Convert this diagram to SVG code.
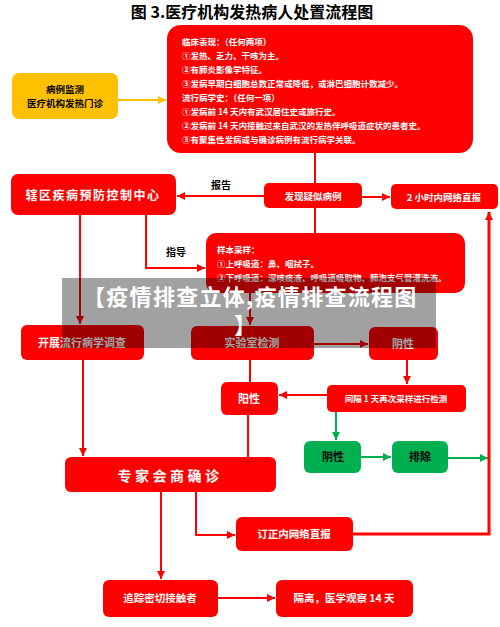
<svg xmlns="http://www.w3.org/2000/svg" width="500" height="627" viewBox="0 0 500 627">
<defs>
<marker id="ar" viewBox="0 0 10 10" refX="10" refY="5" markerWidth="8" markerHeight="8" markerUnits="userSpaceOnUse" orient="auto"><path d="M0,0 L10,5 L0,10 z" fill="#FF0000"/></marker>
<marker id="ag" viewBox="0 0 10 10" refX="10" refY="5" markerWidth="8" markerHeight="8" markerUnits="userSpaceOnUse" orient="auto"><path d="M0,0 L10,5 L0,10 z" fill="#00B050"/></marker>
<marker id="ay" viewBox="0 0 10 10" refX="10" refY="5" markerWidth="8" markerHeight="8" markerUnits="userSpaceOnUse" orient="auto"><path d="M0,0 L10,5 L0,10 z" fill="#FFC000"/></marker>
</defs>
<style>
text{font-family:"Noto Sans CJK SC","Liberation Sans",sans-serif;}
.r{fill:#FF0000;}
.g{fill:#00B050;}
.w{fill:#fff;font-weight:bold;}
.b{fill:#000;font-weight:bold;}
.c{text-anchor:middle;}
.lr{stroke:#FF0000;stroke-width:2;fill:none;}
.lg{stroke:#00B050;stroke-width:2;fill:none;}
.ly{stroke:#FFC000;stroke-width:2;fill:none;}
</style>
<rect width="500" height="627" fill="#fff"/>
<text x="252" y="18" class="b c" font-size="16">图 3.医疗机构发热病人处置流程图</text>

<g id="connectors">
<path class="ly" d="M118,100 L166,100" marker-end="url(#ay)"/>
<path class="lr" d="M315,153 L315,183"/>
<path class="lr" d="M264,196 L177,196" marker-end="url(#ar)"/>
<path class="lr" d="M362,197 L390,197" marker-end="url(#ar)"/>
<path class="lr" d="M315,208 L315,233"/>
<path class="lr" d="M80,215 L80,324" marker-end="url(#ar)"/>
<path class="lr" d="M146,215 L146,268 L205,268" marker-end="url(#ar)"/>
<path class="lr" d="M250,293 L250,325" marker-end="url(#ar)"/>
<path class="lr" d="M314,344 L368,344" marker-end="url(#ar)"/>
<path class="lr" d="M407,360 L407,384" marker-end="url(#ar)"/>
<path class="lr" d="M327,395 L279,395" marker-end="url(#ar)"/>
<path class="lr" d="M250,360 L250,382"/>
<path class="lg" d="M336,412 L336,440" marker-end="url(#ag)"/>
<path class="lg" d="M361,457 L391,457" marker-end="url(#ag)"/>
<path class="lg" d="M448,458 L488,458" marker-end="url(#ag)"/>
<path class="lr" d="M248,415 L248,457"/>
<path class="lr" d="M83,360 L83,456" marker-end="url(#ar)"/>
<path class="lr" d="M161,492 L161,579" marker-end="url(#ar)"/>
<path class="lr" d="M196,492 L196,535 L235,535" marker-end="url(#ar)"/>
<path d="M353,534 L489,534 L489,212" stroke="#FF0000" stroke-width="3" fill="none" marker-end="url(#ar)"/>
<path class="lr" d="M218,598 L275,598" marker-end="url(#ar)"/>
<text x="211" y="189" class="b" font-size="10">报告</text>
<text x="166" y="256" class="b" font-size="10">指导</text>
</g>

<g id="criteria">
<rect x="167" y="25" width="306" height="128" rx="14" class="r"/>
<g class="w" font-size="8.5">
<text x="182" y="45">临床表现：（任何两项）</text>
<text x="182" y="59">①发热、乏力、干咳为主。</text>
<text x="182" y="73">②有肺炎影像学特征。</text>
<text x="182" y="87">③发病早期白细胞总数正常或降低，或淋巴细胞计数减少。</text>
<text x="182" y="101">流行病学史：（任何一项）</text>
<text x="182" y="115">①发病前 14 天内有武汉居住史或旅行史。</text>
<text x="182" y="129">②发病前 14 天内接触过来自武汉的发热伴呼吸道症状的患者史。</text>
<text x="182" y="143">③有聚集性发病或与确诊病例有流行病学关联。</text>
</g>
</g>

<g id="monitor">
<rect x="12" y="73" width="106" height="46" rx="7" fill="#FFC000"/>
<text x="65" y="93" class="b c" font-size="9.5">病例监测</text>
<text x="65" y="107" class="b c" font-size="9.5">医疗机构发热门诊</text>
</g>

<g id="cdc">
<rect x="11" y="174" width="165" height="41" rx="7" class="r"/>
<text x="93" y="200" class="w c" font-size="12" letter-spacing="1.5">辖区疾病预防控制中心</text>
</g>

<g id="suspect">
<rect x="264" y="183" width="98" height="25" rx="5" class="r"/>
<text x="313" y="199.5" class="w c" font-size="9.5">发现疑似病例</text>
</g>

<g id="report2h">
<rect x="391" y="184" width="107" height="25" rx="5" class="r"/>
<text x="444" y="200.5" class="w c" font-size="9.5">2 小时内网络直报</text>
</g>

<g id="sample">
<rect x="206" y="233" width="259" height="60" rx="10" class="r"/>
<g class="w" font-size="8.5">
<text x="217" y="253">样本采样：</text>
<text x="217" y="267">①上呼吸道：鼻、咽拭子。</text>
<text x="217" y="281">②下呼吸道：深咳痰液、呼吸道吸取物、肺泡支气管灌洗液。</text>
</g>
</g>

<g id="epi">
<rect x="21" y="325" width="123" height="35" rx="6" class="r"/>
<text x="82" y="347" class="w c" font-size="11">开展流行病学调查</text>
</g>

<g id="lab">
<rect x="191" y="326" width="123" height="34" rx="6" class="r"/>
<text x="252" y="347" class="w c" font-size="11">实验室检测</text>
</g>

<g id="neg1">
<rect x="369" y="327" width="69" height="33" rx="6" class="r"/>
<text x="403" y="348" class="w c" font-size="11">阴性</text>
</g>

<g id="retest">
<rect x="327" y="385" width="139" height="27" rx="5" class="r"/>
<text x="396" y="402" class="w c" font-size="8.5">间隔 1 天再次采样进行检测</text>
</g>

<g id="pos">
<rect x="221" y="382" width="57" height="33" rx="6" class="r"/>
<text x="249" y="403" class="w c" font-size="11">阳性</text>
</g>

<g id="neg2">
<rect x="304" y="441" width="57" height="32" rx="6" class="g"/>
<text x="333" y="461" class="b c" font-size="11">阴性</text>
</g>

<g id="exclude">
<rect x="392" y="441" width="56" height="32" rx="6" class="g"/>
<text x="420" y="461" class="b c" font-size="11">排除</text>
</g>

<g id="expert">
<rect x="65" y="457" width="211" height="35" rx="6" class="r"/>
<text x="170" y="481" class="w c" font-size="14" letter-spacing="3.5">专家会商确诊</text>
</g>

<g id="correct">
<rect x="236" y="517" width="117" height="34" rx="6" class="r"/>
<text x="294" y="538" class="w c" font-size="10.5">订正内网络直报</text>
</g>

<g id="trace">
<rect x="103" y="580" width="115" height="37" rx="6" class="r"/>
<text x="160" y="602" class="w c" font-size="10.5">追踪密切接触者</text>
</g>

<g id="isolate">
<rect x="276" y="580" width="137" height="37" rx="6" class="r"/>
<text x="344" y="602" class="w c" font-size="10.5">隔离，医学观察 14 天</text>
</g>

<g id="overlay">
<rect x="62" y="278" width="374" height="70" fill="#000" opacity="0.37"/>
<text x="83" y="305" fill="#fff" font-weight="bold" font-size="22" letter-spacing="1.3">【疫情排查立体,疫情排查流程图</text>
<text x="234" y="333" fill="#fff" font-weight="bold" font-size="22">】</text>
</g>
</svg>
